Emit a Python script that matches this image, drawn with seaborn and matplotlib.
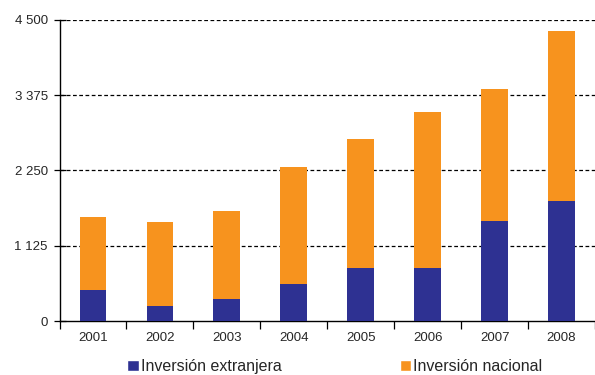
import matplotlib
matplotlib.use("Agg")
import matplotlib.pyplot as plt
import seaborn as sns
import pandas as pd
from matplotlib.ticker import FuncFormatter
from matplotlib.patches import Patch

years = ["2001", "2002", "2003", "2004", "2005", "2006", "2007", "2008"]
extranjera = [470, 228, 332, 555, 793, 793, 1493, 1791]
total = [1552, 1478, 1641, 2296, 2713, 3130, 3473, 4337]
nacional = [t - e for t, e in zip(total, extranjera)]
y_ticks = [0, 1125, 2250, 3375, 4500]

blue = "#2E3192"
orange = "#F7931E"

df = pd.DataFrame({"year": years, "extranjera": extranjera, "nacional": nacional})
df["total"] = df["extranjera"] + df["nacional"]

sns.set_style("white")
plt.rcParams["font.family"] = ["Liberation Sans", "DejaVu Sans"]

fig = plt.figure(figsize=(5.95, 3.75), dpi=100)
ax = fig.add_axes([0.1, 0.144, 0.9, 0.803])

# stacked bars: draw totals in orange, foreign part in blue over them
sns.barplot(data=df, x="year", y="total", color=orange, width=0.4,
            saturation=1, linewidth=0, ax=ax, zorder=3)
sns.barplot(data=df, x="year", y="extranjera", color=blue, width=0.4,
            saturation=1, linewidth=0, ax=ax, zorder=4)

ax.set_ylim(0, 4500)
ax.set_xlim(-0.5, 7.5)
ax.set_yticks(y_ticks)
ax.yaxis.set_major_formatter(FuncFormatter(lambda v, p: f"{int(v):,}".replace(",", " ")))
ax.set_xlabel("")
ax.set_ylabel("")

for v in y_ticks[1:]:
    ax.axhline(v, color="black", lw=0.9, ls=(0, (3, 2)), zorder=2)

# x ticks between categories, labels centred on bars
ax.set_xticks(range(len(years)))
ax.set_xticklabels(years)
ax.tick_params(axis="x", which="major", length=0, labelsize=9.5, pad=8)
ax.set_xticks([i + 0.5 for i in range(-1, len(years))], minor=True)
ax.tick_params(axis="x", which="minor", bottom=True, length=6, width=0.9,
               direction="out", color="black")
ax.tick_params(axis="y", which="major", left=True, length=9, width=0.9,
               direction="inout", labelsize=9.5, pad=4, color="black")

for s in ["top", "right"]:
    ax.spines[s].set_visible(False)
for s in ["left", "bottom"]:
    ax.spines[s].set_color("black")
    ax.spines[s].set_linewidth(1.0)

handles = [Patch(facecolor=blue, label="Inversión extranjera"),
           Patch(facecolor=orange, label="Inversión nacional")]
fig.legend(handles=handles, loc="center", bbox_to_anchor=(0.563, 0.023), ncol=2,
           frameon=False, fontsize=11.5, handlelength=0.7, handleheight=0.7,
           handletextpad=0.15, columnspacing=7.4)

fig.savefig("out.png", dpi=100)
